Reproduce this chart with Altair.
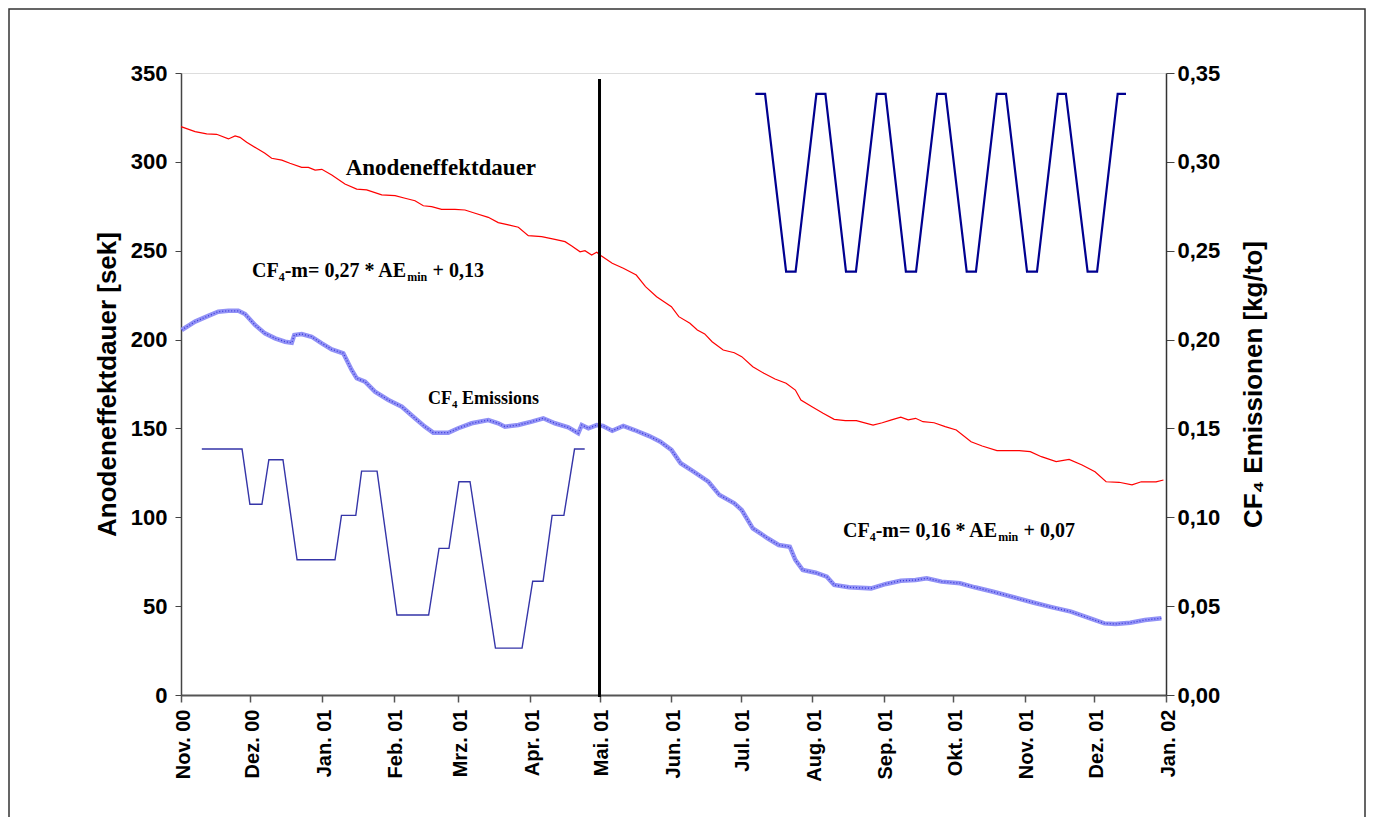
import json
import pandas as pd
import altair as alt

# ---------------- data (days since 1 Nov 2000) ----------------
red_days = [0, 6.1, 11.1, 15.4, 20.5, 23.4, 25.5, 28.4, 32.7, 36.3, 39.2, 43.6, 47.1, 52.2, 55.1,
            58.0, 60.9, 65.2, 70.9, 76.0, 80.3, 86.8, 92.6, 96.9, 101.2, 104.8, 108.4, 112.7, 118.5,
            122.8, 127.2, 132.9, 137.2, 141.6, 145.9, 150.2, 156.0, 161.7, 166.1, 169.0, 172.6, 174.7,
            177.6, 179.8, 181.7, 186.5, 191.3, 196.9, 200.9, 205.7, 208.9, 212.1, 215.3, 220.1, 223.3,
            226.5, 229.7, 234.5, 239.3, 242.5, 247.3, 252.1, 256.9, 261.7, 265.7, 268.1, 272.9, 277.7,
            282.5, 287.3, 292.1, 299.3, 303.3, 307.3, 311.3, 314.5, 317.7, 320.9, 325.7, 330.5, 335.3,
            341.7, 346.5, 352.9, 362.5, 367.3, 372.1, 378.5, 384.1, 389.7, 395.3, 400.1, 405.7, 411.3,
            415.3, 421.7, 424.9]
red_vals = [319.8, 317.0, 315.7, 315.5, 312.9, 314.6, 313.8, 311.0, 307.6, 304.8, 302.0, 301.0, 299.2,
            296.9, 296.9, 295.4, 295.8, 292.6, 287.5, 284.7, 284.2, 281.4, 281.0, 279.5, 278.1, 275.3,
            274.8, 273.3, 273.3, 272.9, 271.1, 268.8, 265.8, 264.5, 263.2, 258.5, 257.9, 256.4, 255.1,
            252.7, 249.4, 250.0, 247.6, 249.1, 247.2, 242.9, 240.1, 236.3, 229.8, 224.1, 221.3, 218.5,
            212.9, 209.2, 205.4, 203.2, 198.8, 194.1, 192.6, 190.4, 184.7, 181.0, 177.8, 175.4, 171.6,
            166.0, 162.2, 158.5, 155.1, 154.4, 154.4, 151.9, 153.2, 154.8, 156.3, 154.8, 155.7, 153.8,
            153.2, 151.0, 149.1, 142.5, 140.1, 137.5, 137.5, 136.9, 134.1, 131.3, 132.6, 129.4, 125.6,
            120.0, 119.7, 118.2, 120.0, 119.9, 121.0]

cf4_days = [0.3, 6.1, 11.8, 16.1, 20.5, 24.8, 27.7, 32.0, 36.3, 40.7, 45.0, 47.9, 49.0, 52.2, 56.5,
            60.9, 65.2, 70.2, 73.8, 76.0, 79.6, 83.9, 89.7, 95.5, 101.2, 105.5, 109.1, 115.6, 119.9,
            125.7, 132.9, 137.2, 140.1, 145.9, 151.7, 156.7, 161.7, 167.5, 171.8, 173.3, 176.2, 179.8,
            182.5, 186.5, 191.3, 196.1, 202.5, 207.3, 212.1, 216.1, 221.7, 228.1, 232.9, 239.3, 242.5,
            247.3, 253.7, 258.5, 263.3, 265.7, 268.9, 274.5, 279.3, 282.5, 288.9, 298.5, 304.9, 311.3,
            317.7, 322.5, 328.9, 336.9, 343.3, 351.3, 359.3, 368.9, 376.9, 384.9, 392.9, 399.3, 404.1,
            410.5, 416.9, 424.0]
cf4_vals = [0.2054, 0.2101, 0.2133, 0.2157, 0.2162, 0.2162, 0.2144, 0.2082, 0.2035, 0.2007, 0.1988,
            0.1982, 0.2026, 0.2031, 0.2016, 0.1979, 0.1945, 0.1923, 0.1829, 0.1782, 0.1763, 0.1707,
            0.1660, 0.1622, 0.1557, 0.1510, 0.1476, 0.1476, 0.1501, 0.1529, 0.1547, 0.1529, 0.1510,
            0.1519, 0.1538, 0.1557, 0.1529, 0.1506, 0.1473, 0.1519, 0.1501, 0.1519, 0.1514, 0.1487,
            0.1514, 0.1491, 0.1457, 0.1425, 0.1379, 0.1304, 0.1257, 0.1200, 0.1125, 0.1079, 0.1041,
            0.0938, 0.0882, 0.0844, 0.0834, 0.0760, 0.0703, 0.0688, 0.0666, 0.0619, 0.0606, 0.0600,
            0.0625, 0.0643, 0.0647, 0.0657, 0.0638, 0.0629, 0.0606, 0.0581, 0.0553, 0.0519, 0.0493,
            0.0469, 0.0432, 0.0403, 0.0400, 0.0407, 0.0422, 0.0432]

wave1_days = [9.0, 26.4, 29.8, 35.0, 38.0, 44.1, 50.2, 66.6, 69.4, 75.6, 78.1, 84.8, 93.4, 107.1,
              111.6, 115.9, 120.2, 125.0, 136.0, 147.5, 152.1, 156.6, 160.5, 165.6, 170.2, 174.6]
wave1_vals = [138.4, 138.4, 107.3, 107.3, 132.4, 132.4, 76.1, 76.1, 101.1, 101.1, 126.0, 126.0,
              45.0, 45.0, 82.5, 82.5, 120.0, 120.0, 26.4, 26.4, 64.0, 64.0, 101.1, 101.1, 138.4, 138.4]

wave2_days = [248.4, 252.6, 261.7, 265.8, 274.8, 278.7, 287.6, 291.9, 300.9, 304.7, 313.5, 317.9,
              327.0, 330.7, 339.8, 343.8, 352.8, 356.8, 365.9, 370.2, 379.2, 382.7, 392.1, 396.2,
              405.1, 408.7]
wave2_vals = [338.2, 338.2, 238.2, 238.2, 338.2, 338.2, 238.2, 238.2, 338.2, 338.2, 238.2, 238.2,
              338.2, 338.2, 238.2, 238.2, 338.2, 338.2, 238.2, 238.2, 338.2, 338.2, 238.2, 238.2,
              338.2, 338.2]

# annotation: series name (centred)
name_text = "Anodeneffektdauer"
name_day = 112.4
name_val = 296.5

# annotation: "CF4 Emissions" (left edge / baseline)
emis_parts = ["CF", "4", "Emissions"]
emis_day = 106.8
emis_val = 163.7

# annotation: regression formulas (left edge / baseline)
eq_coef = ["0,27", "0,16"]
eq_const = ["0,13", "0,07"]
eq_days = [30.7, 286.3]
eq_vals = [235.2, 88.9]

month_names = ["Jan.", "Feb.", "Mrz.", "Apr.", "Mai.", "Jun.", "Jul.", "Aug.", "Sep.", "Okt.",
               "Nov.", "Dez."]
tick_months = [(2000, 11), (2000, 12)] + [(2001, m) for m in range(1, 13)] + [(2002, 1)]
left_ticks = [0, 50, 100, 150, 200, 250, 300, 350]
right_ticks = [0.0, 0.05, 0.10, 0.15, 0.20, 0.25, 0.30, 0.35]
split_date = "2001-05-01"

# ---------------- frames ----------------
base = pd.Timestamp("2000-11-01")


def frame(days, vals):
    return pd.DataFrame({"date": base + pd.to_timedelta(days, unit="D"), "v": vals})


red_df = frame(red_days, red_vals)
cf4_df = frame(cf4_days, cf4_vals)
w1_df = frame(wave1_days, wave1_vals)
w2_df = frame(wave2_days, wave2_vals)

SANS = "Liberation Sans, Arial, DejaVu Sans"
SERIF = "Liberation Serif, Times New Roman, DejaVu Serif"

x_axis = alt.Axis(
    values=[alt.DateTime(year=y, month=m, date=1) for y, m in tick_months],
    labelExpr=json.dumps(month_names) + "[month(datum.value)] + ' ' + timeFormat(datum.value, '%y')",
    labelAngle=270, labelAlign="right", labelBaseline="middle", labelFont=SANS,
    labelFontWeight="bold", labelFontSize=20, labelColor="black", labelPadding=7,
    labelOverlap=False, labelFlush=False, tickSize=7, tickColor="#555", tickWidth=1.5,
    domainColor="#555", domainWidth=2, grid=False, title=None, labelOffset=2,
)
x_scale = alt.Scale(domain=[alt.DateTime(year=2000, month=11, date=1),
                            alt.DateTime(year=2002, month=1, date=1)], nice=False)


def X():
    return alt.X("date:T", scale=x_scale, axis=x_axis)


y_left_scale = alt.Scale(domain=[0, 350], nice=False)
y_left_axis = alt.Axis(
    orient="left", values=left_ticks, labelFont=SANS, labelFontWeight="bold", labelFontSize=22,
    labelColor="black", labelPadding=8, labelFlush=False, labelOverlap=False, tickSize=6,
    tickColor="#444", domainColor="#444", domainWidth=1.5, grid=False,
    title="Anodeneffektdauer [sek]", titleFont=SANS, titleFontWeight="bold", titleFontSize=26,
    titleColor="black", titleAngle=270, titleX=-74, titleY=311, titleAlign="center",
    titleBaseline="middle",
)
y_right_axis = alt.Axis(
    orient="right", values=right_ticks,
    labelExpr="replace(format(datum.value, '.2f'), '.', ',')",
    labelFont=SANS, labelFontWeight="bold", labelFontSize=22, labelColor="black", labelPadding=3,
    labelFlush=False, labelOverlap=False, tickSize=8, tickColor="#444", domainColor="#333",
    domainWidth=1.5, grid=False,
    title="CF₄ Emissionen [kg/to]", titleFont=SANS, titleFontWeight="bold", titleFontSize=26,
    titleColor="black", titleAngle=270, titleX=87, titleY=311, titleAlign="center",
    titleBaseline="middle",
)


def YL():
    return alt.Y("v:Q", scale=y_left_scale, axis=y_left_axis)


red = alt.Chart(red_df).mark_line(color="#ff0000", strokeWidth=1.2).encode(x=X(), y=YL())
wave1 = alt.Chart(w1_df).mark_line(color="#3535a8", strokeWidth=1.4).encode(x=X(), y=YL())
wave2 = alt.Chart(w2_df).mark_line(color="#000090", strokeWidth=2.2).encode(x=X(), y=YL())

name_df = frame([name_day], [name_val])
name_df["t"] = [name_text]
name_mark = alt.Chart(name_df).mark_text(
    font=SERIF, fontWeight="bold", fontSize=23, color="black", align="center",
    baseline="middle").encode(x=X(), y=YL(), text="t:N")


def piece(df, col, size, dx, dy=0):
    return alt.Chart(df).mark_text(
        font=SERIF, fontWeight="bold", fontSize=size, color="black", align="left",
        baseline="alphabetic", dx=dx, dy=dy).encode(x=X(), y=YL(), text=f"{col}:N")


# formulas: CF | 4 | -m= c * AE | min | + k
eq_df = frame(eq_days, eq_vals)
eq_df["p1"] = "CF"
eq_df["p2"] = "4"
eq_df["p3"] = ["-m= " + c + " * AE" for c in eq_coef]
eq_df["p4"] = "min"
eq_df["p5"] = ["+ " + k for k in eq_const]
eq_marks = [
    piece(eq_df, "p1", 20, 0),
    piece(eq_df, "p2", 12, 26.7, 4),
    piece(eq_df, "p3", 20, 32.7),
    piece(eq_df, "p4", 12, 155.2, 4),
    piece(eq_df, "p5", 20, 180.5),
]

emis_df = frame([emis_day], [emis_val])
emis_df["p1"] = [emis_parts[0]]
emis_df["p2"] = [emis_parts[1]]
emis_df["p3"] = [emis_parts[2]]
emis_marks = [
    piece(emis_df, "p1", 18, 0),
    piece(emis_df, "p2", 11, 24.0, 4),
    piece(emis_df, "p3", 18, 34.0),
]

left_group = alt.layer(red, wave1, wave2, name_mark, *eq_marks, *emis_marks)

y_right = alt.Y("v:Q", scale=alt.Scale(domain=[0, 0.35], nice=False), axis=y_right_axis)
cf4_wide = alt.Chart(cf4_df).mark_line(color="#9292f6", strokeWidth=4.5).encode(x=X(), y=y_right)
cf4_dots = alt.Chart(cf4_df).mark_line(color="#3a3ad8", strokeWidth=1.3,
                                       strokeDash=[1, 2]).encode(x=X(), y=y_right)
right_group = alt.layer(cf4_wide, cf4_dots)

rule = alt.Chart(pd.DataFrame({"date": [pd.Timestamp(split_date)]})).mark_rule(
    color="black", strokeWidth=3).encode(x=X(), y=alt.value(6), y2=alt.value(624))

border = alt.Chart(pd.DataFrame({"a": [0]})).mark_rect(
    fillOpacity=0, stroke="#333", strokeWidth=1.5, clip=False).encode(
    x=alt.value(-172), x2=alt.value(1184), y=alt.value(-64), y2=alt.value(760))

chart = alt.layer(left_group, right_group, rule, border).resolve_scale(y="independent").properties(
    width=985, height=622,
    padding={"left": 173, "top": 65, "right": 200, "bottom": 122},
    autosize=alt.AutoSizeParams(type="none"),
).configure_view(stroke="#808080", strokeWidth=1).configure(background="white")

chart.save("out.html", embed_options={"renderer": "svg", "actions": False})
